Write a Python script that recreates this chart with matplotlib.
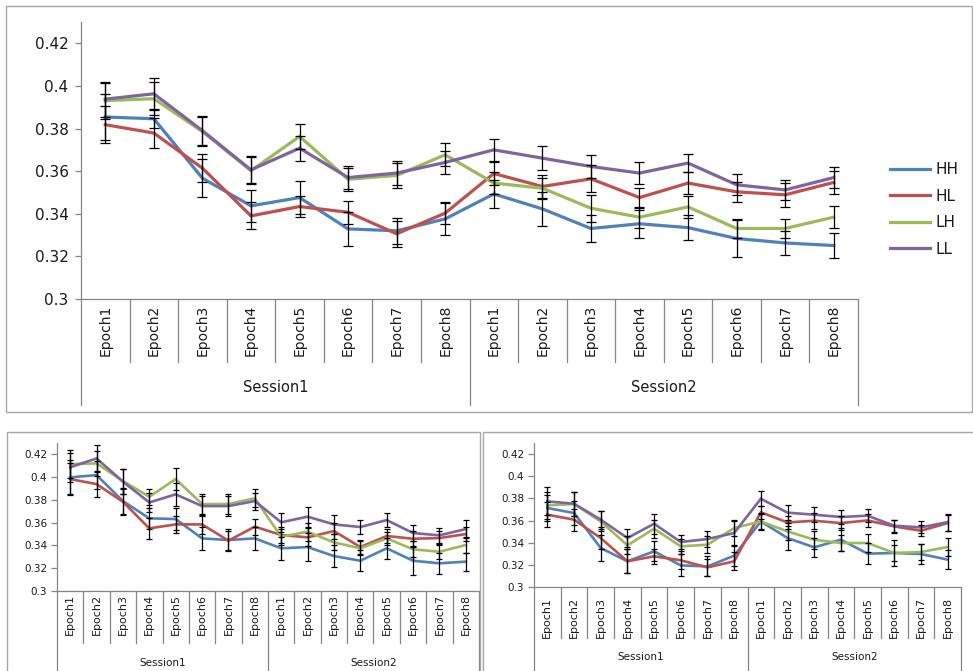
import numpy as np
import matplotlib
matplotlib.use("Agg")
import matplotlib.pyplot as plt
import matplotlib.transforms as mtransforms
from matplotlib.patches import Rectangle

# ---- categories and labels ----
epochs = ["Epoch1", "Epoch2", "Epoch3", "Epoch4", "Epoch5", "Epoch6", "Epoch7", "Epoch8"]
sessions = ["Session1", "Session2"]
series_names = ["HH", "HL", "LH", "LL"]
y_ticks = [0.30, 0.32, 0.34, 0.36, 0.38, 0.40, 0.42]
y_tick_labels = ["0.3", "0.32", "0.34", "0.36", "0.38", "0.4", "0.42"]

# ---- main panel (Session1 epochs 1-8, then Session2 epochs 1-8) ----
top_hh = [0.3854, 0.3846, 0.3567, 0.3437, 0.3476, 0.3329, 0.3320, 0.3376,
          0.3493, 0.3423, 0.3331, 0.3353, 0.3335, 0.3284, 0.3263, 0.3251]
top_hl = [0.3818, 0.3779, 0.3614, 0.3390, 0.3434, 0.3407, 0.3306, 0.3403,
          0.3589, 0.3528, 0.3564, 0.3476, 0.3544, 0.3503, 0.3489, 0.3547]
top_lh = [0.3931, 0.3940, 0.3786, 0.3602, 0.3763, 0.3562, 0.3580, 0.3677,
          0.3544, 0.3520, 0.3426, 0.3384, 0.3432, 0.3331, 0.3331, 0.3384]
top_ll = [0.3938, 0.3963, 0.3790, 0.3606, 0.3708, 0.3570, 0.3591, 0.3641,
          0.3700, 0.3661, 0.3622, 0.3591, 0.3638, 0.3536, 0.3512, 0.3570]
top_hh_err = [0.0110, 0.0045, 0.0090, 0.0075, 0.0077, 0.0081, 0.0060, 0.0074,
              0.0066, 0.0080, 0.0063, 0.0067, 0.0060, 0.0086, 0.0058, 0.0060]
top_hl_err = [0.0086, 0.0072, 0.0065, 0.0063, 0.0050, 0.0055, 0.0060, 0.0050,
              0.0055, 0.0055, 0.0063, 0.0047, 0.0053, 0.0047, 0.0055, 0.0055]
top_lh_err = [0.0085, 0.0078, 0.0067, 0.0063, 0.0058, 0.0055, 0.0058, 0.0055,
              0.0050, 0.0050, 0.0063, 0.0050, 0.0050, 0.0045, 0.0044, 0.0053]
top_ll_err = [0.0082, 0.0075, 0.0067, 0.0063, 0.0058, 0.0055, 0.0058, 0.0053,
              0.0050, 0.0055, 0.0055, 0.0052, 0.0044, 0.0049, 0.0047, 0.0050]

# ---- lower-left panel ----
bl_hh = [0.3998, 0.4018, 0.3790, 0.3638, 0.3632, 0.3462, 0.3448, 0.3462,
         0.3375, 0.3386, 0.3307, 0.3266, 0.3375, 0.3266, 0.3243, 0.3258]
bl_hl = [0.3983, 0.3939, 0.3784, 0.3550, 0.3585, 0.3585, 0.3442, 0.3565,
         0.3492, 0.3471, 0.3527, 0.3386, 0.3483, 0.3459, 0.3465, 0.3500]
bl_lh = [0.4115, 0.4121, 0.3966, 0.3828, 0.3983, 0.3764, 0.3764, 0.3814,
         0.3477, 0.3521, 0.3427, 0.3375, 0.3462, 0.3366, 0.3345, 0.3404]
bl_ll = [0.4086, 0.4165, 0.3960, 0.3778, 0.3849, 0.3746, 0.3746, 0.3790,
         0.3603, 0.3653, 0.3585, 0.3562, 0.3623, 0.3509, 0.3489, 0.3544]
bl_hh_err = [0.0150, 0.0120, 0.0110, 0.0090, 0.0100, 0.0100, 0.0095, 0.0100,
             0.0100, 0.0120, 0.0095, 0.0090, 0.0090, 0.0125, 0.0090, 0.0080]
bl_hl_err = [0.0140, 0.0110, 0.0120, 0.0095, 0.0075, 0.0080, 0.0085, 0.0070,
             0.0070, 0.0080, 0.0070, 0.0060, 0.0065, 0.0070, 0.0065, 0.0065]
bl_lh_err = [0.0120, 0.0110, 0.0110, 0.0070, 0.0095, 0.0085, 0.0085, 0.0080,
             0.0070, 0.0080, 0.0070, 0.0060, 0.0060, 0.0070, 0.0065, 0.0070]
bl_ll_err = [0.0130, 0.0115, 0.0110, 0.0080, 0.0100, 0.0090, 0.0090, 0.0075,
             0.0085, 0.0087, 0.0080, 0.0060, 0.0060, 0.0070, 0.0067, 0.0080]

# ---- lower-right panel ----
br_hh = [0.3713, 0.3668, 0.3352, 0.3232, 0.3322, 0.3195, 0.3186, 0.3283,
         0.3592, 0.3442, 0.3358, 0.3427, 0.3301, 0.3307, 0.3298, 0.3247]
br_hl = [0.3653, 0.3608, 0.3442, 0.3232, 0.3277, 0.3241, 0.3177, 0.3232,
         0.3674, 0.3583, 0.3598, 0.3577, 0.3601, 0.3547, 0.3508, 0.3577]
br_lh = [0.3737, 0.3749, 0.3592, 0.3376, 0.3526, 0.3367, 0.3382, 0.3532,
         0.3592, 0.3502, 0.3427, 0.3397, 0.3397, 0.3307, 0.3316, 0.3361]
br_ll = [0.3773, 0.3752, 0.3608, 0.3442, 0.3571, 0.3406, 0.3433, 0.3487,
         0.3797, 0.3671, 0.3653, 0.3632, 0.3644, 0.3553, 0.3538, 0.3586]
br_hh_err = [0.0120, 0.0110, 0.0114, 0.0110, 0.0090, 0.0100, 0.0090, 0.0090,
             0.0075, 0.0105, 0.0087, 0.0105, 0.0093, 0.0120, 0.0090, 0.0085]
br_hl_err = [0.0115, 0.0100, 0.0100, 0.0110, 0.0070, 0.0080, 0.0080, 0.0080,
             0.0060, 0.0060, 0.0070, 0.0060, 0.0055, 0.0060, 0.0050, 0.0070]
br_lh_err = [0.0120, 0.0110, 0.0090, 0.0080, 0.0080, 0.0070, 0.0075, 0.0070,
             0.0070, 0.0080, 0.0080, 0.0075, 0.0080, 0.0075, 0.0070, 0.0085]
br_ll_err = [0.0126, 0.0110, 0.0080, 0.0080, 0.0090, 0.0066, 0.0075, 0.0110,
             0.0066, 0.0070, 0.0070, 0.0060, 0.0060, 0.0055, 0.0055, 0.0076]

colors = ["#4F81BD", "#C0504D", "#9BBB59", "#8064A2"]
axis_gray = "#868686"
frame_gray = "#a6a6a6"
text_color = "#1a1a1a"

W, H = 973, 671
fig = plt.figure(figsize=(W / 100, H / 100), dpi=100)
fig.patch.set_facecolor("white")


def frame(l, t, r, b):
    fig.add_artist(Rectangle((l / W, 1 - b / H), (r - l) / W, (b - t) / H,
                             transform=fig.transFigure, fill=False,
                             edgecolor=frame_gray, lw=1.0, clip_on=False))


def panel(box, values, errors, lw, capsize, tick_size, tick_pad, epoch_size,
          session_size, epoch_top, epoch_sep_end, session_y, session_sep_end):
    l, t, r, b = box
    ax = fig.add_axes([l / W, 1 - b / H, (r - l) / W, (b - t) / H])
    hpx = b - t
    x = np.arange(len(epochs) * len(sessions))
    lines = []
    for vals, errs, c, name in zip(values, errors, colors, series_names):
        ln, = ax.plot(x, vals, color=c, lw=lw, solid_joinstyle="miter",
                      label=name, zorder=2)
        lines.append(ln)
        ax.errorbar(x, vals, yerr=errs, fmt="none", ecolor="black",
                    elinewidth=0.9, capsize=capsize, capthick=0.9, zorder=3)
    ax.set_xlim(-0.5, len(x) - 0.5)
    ax.set_ylim(0.30, 0.43)
    ax.set_yticks(y_ticks)
    ax.set_yticklabels(y_tick_labels)
    ax.set_xticks([])
    for s in ("top", "right"):
        ax.spines[s].set_visible(False)
    for s in ("left", "bottom"):
        ax.spines[s].set_color(axis_gray)
        ax.spines[s].set_linewidth(0.9)
    ax.tick_params(axis="y", direction="out", length=4, width=0.9,
                   color=axis_gray, labelsize=tick_size, pad=tick_pad,
                   labelcolor=text_color)
    ax.set_facecolor("none")

    tr = mtransforms.blended_transform_factory(ax.transData, ax.transAxes)
    fy = lambda ypx: (b - ypx) / hpx
    # two-level category axis
    for k in range(len(x) + 1):
        end = session_sep_end if k % len(epochs) == 0 else epoch_sep_end
        ax.plot([k - 0.5, k - 0.5], [0, fy(end)], transform=tr,
                color=axis_gray, lw=0.9, clip_on=False)
    for i in x:
        ax.text(i, fy(epoch_top), epochs[i % len(epochs)], transform=tr,
                rotation=90, ha="center", va="top", fontsize=epoch_size,
                color=text_color)
    for j, sname in enumerate(sessions):
        cx = j * len(epochs) + (len(epochs) - 1) / 2
        ax.text(cx, fy(session_y), sname, transform=tr, ha="center",
                va="center", fontsize=session_size, color=text_color)
    return ax, lines


# main panel
frame(6, 6, 972, 412)
ax_top, top_lines = panel((81, 22, 858, 299),
                          [top_hh, top_hl, top_lh, top_ll],
                          [top_hh_err, top_hl_err, top_lh_err, top_ll_err],
                          lw=2.3, capsize=3.3, tick_size=11, tick_pad=5,
                          epoch_size=10, session_size=10.5, epoch_top=305,
                          epoch_sep_end=362, session_y=388, session_sep_end=405)
fig.legend(handles=top_lines, labels=series_names, loc="center left",
           bbox_to_anchor=(884 / W, 1 - 209.5 / H), frameon=False,
           fontsize=11, handlelength=2.6, handletextpad=0.35,
           labelspacing=0.75, labelcolor=text_color, borderaxespad=0)

# lower-left panel
frame(7, 432, 480, 680)
panel((57, 443, 479, 591),
      [bl_hh, bl_hl, bl_lh, bl_ll],
      [bl_hh_err, bl_hl_err, bl_lh_err, bl_ll_err],
      lw=1.9, capsize=2.3, tick_size=7.5, tick_pad=3,
      epoch_size=8, session_size=7.5, epoch_top=594,
      epoch_sep_end=643, session_y=663, session_sep_end=680)

# lower-right panel
frame(483, 432, 980, 680)
panel((534, 443, 961, 587),
      [br_hh, br_hl, br_lh, br_ll],
      [br_hh_err, br_hl_err, br_lh_err, br_ll_err],
      lw=1.9, capsize=2.3, tick_size=7.5, tick_pad=3,
      epoch_size=8, session_size=7.5, epoch_top=597,
      epoch_sep_end=638, session_y=657, session_sep_end=680)

fig.savefig("out.png", dpi=100, facecolor="white")
